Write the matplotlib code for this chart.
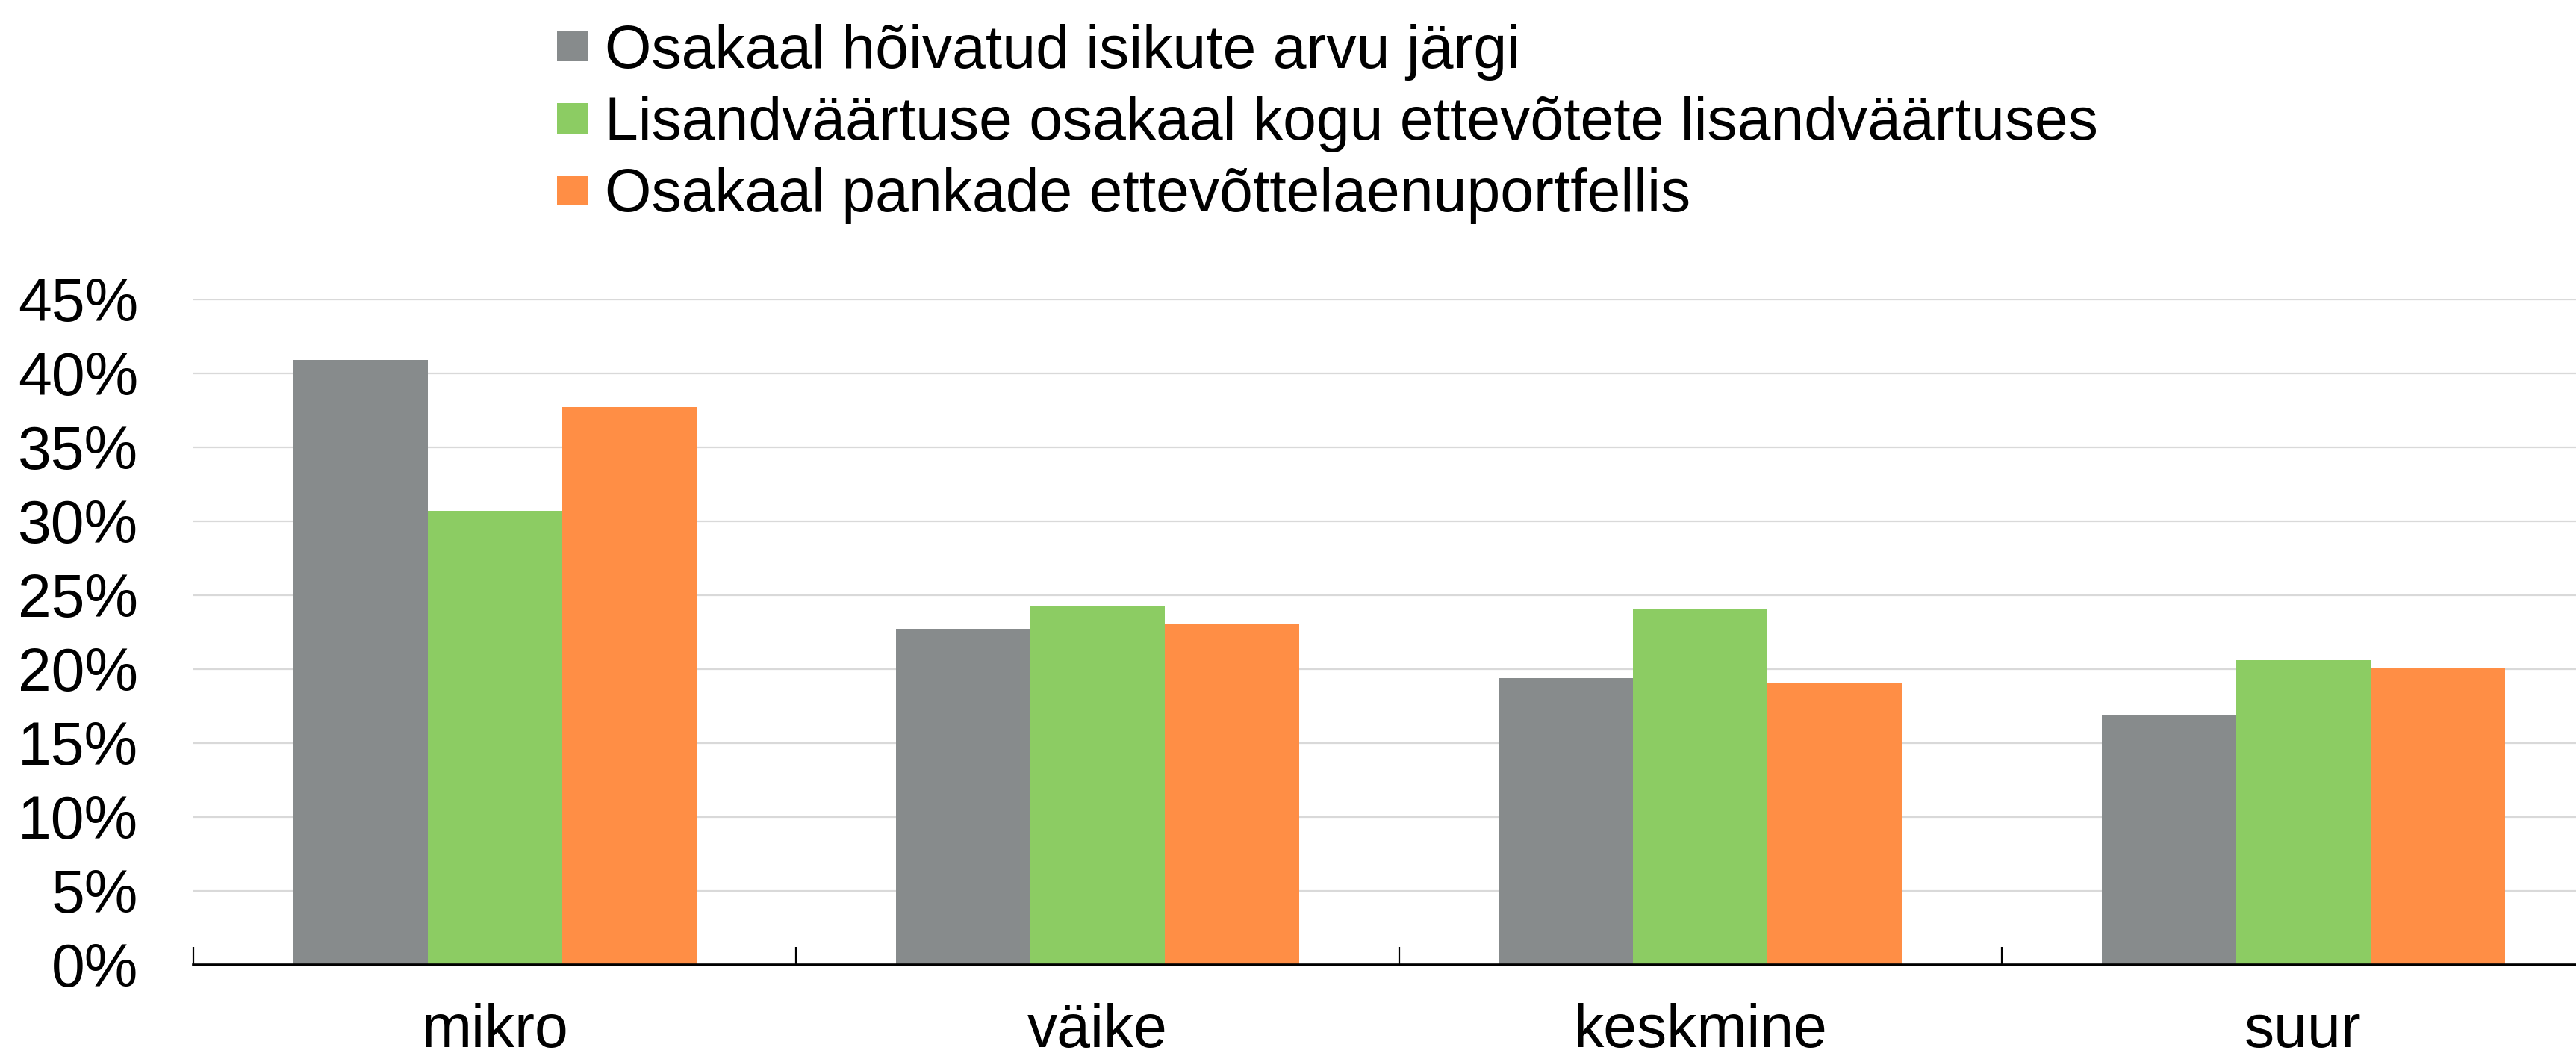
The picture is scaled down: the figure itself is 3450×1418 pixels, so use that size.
import numpy as np
import matplotlib
matplotlib.use('Agg')
import matplotlib.pyplot as plt
from matplotlib.ticker import FixedLocator, FuncFormatter

plt.rcParams['font.family'] = ['Liberation Sans', 'DejaVu Sans']

categories = ['mikro', 'väike', 'keskmine', 'suur']
series_names = ['Osakaal hõivatud isikute arvu järgi',
                'Lisandväärtuse osakaal kogu ettevõtete lisandväärtuses',
                'Osakaal pankade ettevõttelaenuportfellis']
employment = [40.9, 22.7, 19.4, 16.9]
value_added = [30.7, 24.3, 24.1, 20.6]
bank_loans = [37.7, 23.0, 19.1, 20.1]
colors = ['#878b8c', '#8ccc63', '#ff8e45']

FS = 58

fig = plt.figure(figsize=(34.5, 14.18), dpi=100)
# axes runs past the right edge, like the source chart
ax = fig.add_axes([0.0751, 0.0891, 0.936, 0.6283])

x = np.arange(len(categories))
w = 0.223
bars = []
for i, vals in enumerate([employment, value_added, bank_loans]):
    b = ax.bar(x + (i - 1) * w, vals, width=w, color=colors[i], zorder=3,
               label=series_names[i])
    bars.append(b)

ax.set_xlim(-0.5, 3.5)
ax.set_ylim(0, 45)
ax.set_yticks(np.arange(0, 46, 5))
ax.yaxis.set_major_formatter(FuncFormatter(lambda v, p: f'{v:.0f}%'))
ax.yaxis.grid(True, color='#d9d9d9', linewidth=1.6, zorder=0)
ax.tick_params(axis='y', length=0, pad=53, labelsize=FS)

# boundary ticks without labels, category names at the centres
ax.xaxis.set_major_locator(FixedLocator(np.arange(-0.5, 4, 1)))
ax.xaxis.set_minor_locator(FixedLocator(x))
ax.set_xticklabels([])
ax.set_xticklabels(categories, minor=True)
ax.tick_params(axis='x', which='major', direction='in', length=17, width=1.6, color='black')
ax.tick_params(axis='x', which='minor', length=0, pad=37, labelsize=FS)

for s in ['top', 'right', 'left']:
    ax.spines[s].set_visible(False)
ax.spines['bottom'].set_linewidth(2.6)
ax.spines['bottom'].set_zorder(4)

fig.legend(handles=bars, labels=series_names, loc='upper left',
           bbox_to_anchor=(0.207, 1.0), frameon=False, fontsize=FS,
           handlelength=0.51, handleheight=0.39, handletextpad=0.28,
           labelspacing=0.25, borderaxespad=0)

fig.savefig('out.png', dpi=100)
